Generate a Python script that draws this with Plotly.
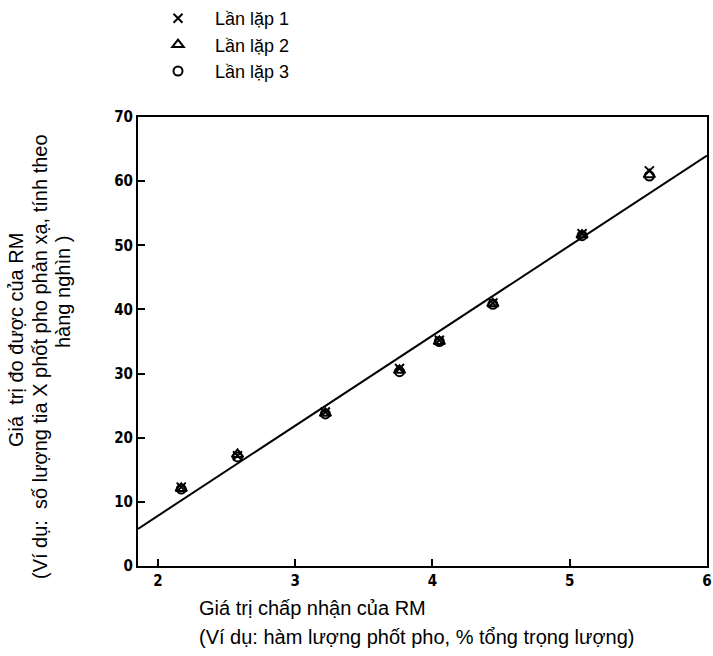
import plotly.graph_objects as go

# Accepted reference-material values (x) and measured values for three replicates
accepted = [2.17, 2.58, 3.22, 3.76, 4.05, 4.44, 5.09, 5.58]
rep1 = [12.3, 17.2, 24.0, 30.8, 35.2, 41.0, 51.8, 61.6]
rep2 = [12.1, 17.4, 23.8, 30.5, 35.0, 40.9, 51.6, 61.0]
rep3 = [12.0, 17.0, 23.7, 30.3, 35.0, 40.8, 51.5, 60.8]
rep_names = ["Lần lặp 1", "Lần lặp 2", "Lần lặp 3"]

# Calibration line y = slope * x + intercept
slope = 14.04
intercept = -20.25

x_range = [1.855, 6.0]
y_range = [0, 70]
x_ticks = [2, 3, 4, 5, 6]
y_ticks = [0, 10, 20, 30, 40, 50, 60, 70]

FONT = "Arial, Liberation Sans, sans-serif"
TICKFONT = "Liberation Sans Narrow, Arial Narrow, DejaVu Sans Condensed, sans-serif"

LEFT, RIGHT, TOP, BOTTOM = 138, 707, 117, 566
PW, PH = RIGHT - LEFT, BOTTOM - TOP

fig = go.Figure()

line_x = x_range
line_y = [slope * v + intercept for v in line_x]
fig.add_trace(go.Scatter(x=line_x, y=line_y, mode="lines",
                         line=dict(color="black", width=2),
                         showlegend=False, hoverinfo="skip"))

symbols = ["x-thin-open", "triangle-up-open", "circle-open"]
sizes = [9, 10, 9]
for name, ys, sym, sz in zip(rep_names, [rep1, rep2, rep3], symbols, sizes):
    fig.add_trace(go.Scatter(x=accepted, y=ys, mode="markers", name=name,
                             marker=dict(symbol=sym, size=sz, color="black",
                                         line=dict(color="black", width=2))))

axis_common = dict(showline=True, linecolor="black", linewidth=2, mirror=True,
                   ticks="inside", ticklen=7, tickwidth=2, tickcolor="black",
                   showgrid=False, zeroline=False, ticklabeloverflow="allow",
                   tickfont=dict(family=TICKFONT, size=15, color="black", weight="bold"))

fig.update_xaxes(range=x_range, tickvals=x_ticks, ticktext=[str(t) for t in x_ticks],
                 **axis_common)
fig.update_yaxes(range=y_range, tickvals=y_ticks, ticktext=[str(t) for t in y_ticks],
                 **axis_common)

TITLE_FONT = dict(family=FONT, size=20, color="black")

# Axis titles
fig.add_annotation(text="Giá trị chấp nhận của RM", xref="paper", yref="paper",
                   x=(197 - LEFT) / PW, y=-(608 - BOTTOM) / PH, xanchor="left", yanchor="middle",
                   showarrow=False, font=TITLE_FONT)
fig.add_annotation(text="(Ví dụ: hàm lượng phốt pho, % tổng trọng lượng)", xref="paper", yref="paper",
                   x=(197 - LEFT) / PW, y=-(637 - BOTTOM) / PH, xanchor="left", yanchor="middle",
                   showarrow=False, font=TITLE_FONT)

ytitle_lines = [
    ("Giá  trị đo được của RM", 16, 340),
    ("(Ví dụ:  số lượng tia X phốt pho phản xạ, tính theo", 40, 357),
    ("hàng nghìn )", 63, 292),
]
for txt, px, py in ytitle_lines:
    fig.add_annotation(text=txt, xref="paper", yref="paper",
                       x=(px - LEFT) / PW, y=(BOTTOM - py) / PH,
                       xanchor="center", yanchor="middle", textangle=-90,
                       showarrow=False, font=TITLE_FONT)

fig.update_layout(
    width=713, height=656,
    margin=dict(l=LEFT, r=713 - RIGHT, t=TOP, b=656 - BOTTOM, autoexpand=False),
    plot_bgcolor="white", paper_bgcolor="white",
    font=dict(family=FONT, color="black"),
    legend=dict(xref="container", yref="container", x=141 / 713, y=1.0,
                xanchor="left", yanchor="top",
                font=dict(family=FONT, size=18, color="black"),
                bgcolor="rgba(0,0,0,0)", itemwidth=64, tracegroupgap=0),
)

fig.write_html("out.html")
